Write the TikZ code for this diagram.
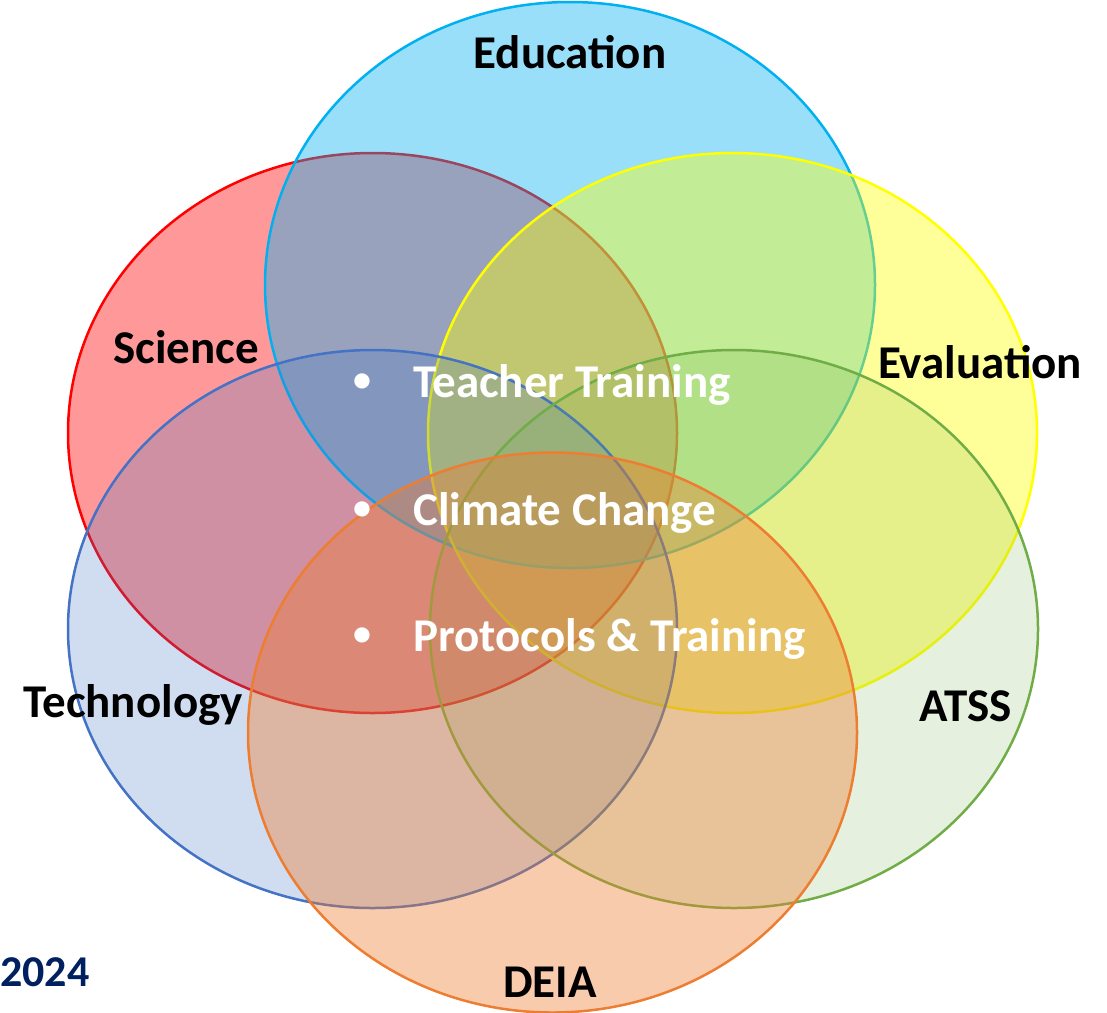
\documentclass[tikz,border=0pt]{standalone}
\usepackage{fontspec}
\setmainfont{Carlito}
\definecolor{sciRed}{HTML}{FF0000}
\definecolor{eduBlue}{HTML}{00B0F0}
\definecolor{evalYellow}{HTML}{FFFF00}
\definecolor{techBlue}{HTML}{4472C4}
\definecolor{atssGreen}{HTML}{70AD47}
\definecolor{deiaOrange}{HTML}{ED7D31}
\definecolor{yearNavy}{HTML}{002060}
\tikzset{
  setshape/.style={line width=2.5pt},
  setlabel/.style={font=\fontsize{47}{56}\selectfont\bfseries, text=black, inner sep=0pt},
  topiclabel/.style={font=\fontsize{47}{56}\selectfont\bfseries, text=white, inner sep=0pt, anchor=west},
  dotlabel/.style={font=\fontsize{36}{42}\selectfont\bfseries, text=white, inner sep=0pt}
}
\begin{document}
\begin{tikzpicture}[x=1pt,y=-1pt]
        \useasboundingbox (0,0) rectangle (1107,1012);

        % The six sets
        \draw[setshape, draw=sciRed, fill=sciRed, fill opacity=0.4] (372.5,433) ellipse [x radius=304.5, y radius=280];
        \draw[setshape, draw=eduBlue, fill=eduBlue, fill opacity=0.4] (570,285) ellipse [x radius=305, y radius=283];
        \draw[setshape, draw=evalYellow, fill=evalYellow, fill opacity=0.4] (732.5,433) ellipse [x radius=304.5, y radius=280];
        \draw[setshape, draw=techBlue, fill=techBlue, fill opacity=0.25] (372.5,629) ellipse [x radius=304.5, y radius=279];
        \draw[setshape, draw=atssGreen, fill=atssGreen, fill opacity=0.18] (734,629) ellipse [x radius=304, y radius=279];
        \draw[setshape, draw=deiaOrange, fill=deiaOrange, fill opacity=0.4] (552.5,732.5) ellipse [x radius=304.5, y radius=280];

        % Set names
        \node[setlabel] (education) at (570,52) {Education};
        \node[setlabel] (science) at (186,347) {Science};
        \node[setlabel] (evaluation) at (980,362) {Evaluation};
        \node[setlabel] (technology) at (133,705) {Technology};
        \node[setlabel] (atss) at (966,706) {ATSS};
        \node[setlabel] (deia) at (550,982) {DEIA};

        % Topics in the middle
        \node[dotlabel] (dotteacher) at (362,383) {\textbullet};
        \node[topiclabel] (teacher) at (413,385) {Teacher Training};
        \node[dotlabel] (dotclimate) at (362,511) {\textbullet};
        \node[topiclabel] (climate) at (413,513) {Climate Change};
        \node[dotlabel] (dotprotocols) at (362,637) {\textbullet};
        \node[topiclabel] (protocols) at (413,639) {Protocols \& Training};

        % Year
        \node[setlabel, text=yearNavy, anchor=west, font=\fontsize{44}{52}\selectfont\bfseries] (year) at (0,972) {2024};
      \end{tikzpicture}
\end{document}
